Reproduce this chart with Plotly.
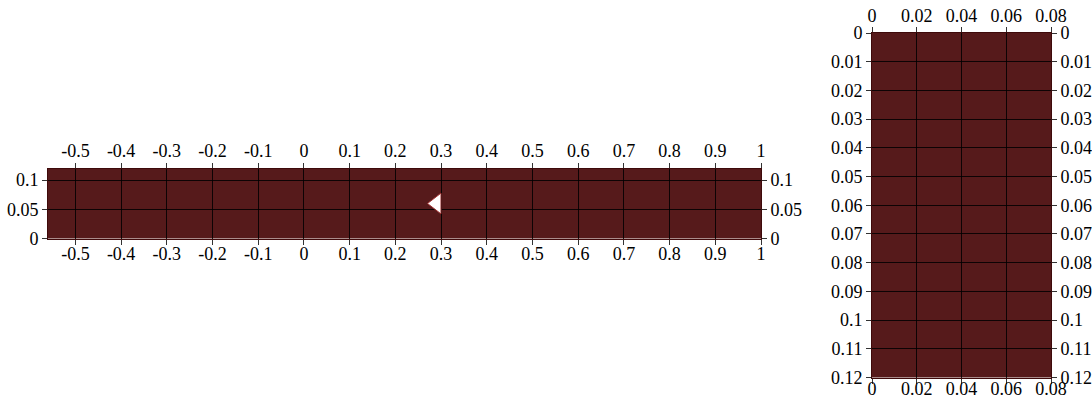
import plotly.graph_objects as go

# ---- data ----
left_x_range = [-0.56, 1.0]
left_y_range = [0.0, 0.12]
left_x_ticks = [-0.5, -0.4, -0.3, -0.2, -0.1, 0, 0.1, 0.2, 0.3, 0.4, 0.5, 0.6, 0.7, 0.8, 0.9, 1]
left_x_labels = ["-0.5", "-0.4", "-0.3", "-0.2", "-0.1", "0", "0.1", "0.2", "0.3", "0.4", "0.5", "0.6", "0.7", "0.8", "0.9", "1"]
left_y_ticks = [0, 0.05, 0.1]
left_y_labels = ["0", "0.05", "0.1"]

right_x_range = [0.0, 0.08]
right_y_range = [0.12, 0.0]
right_x_ticks = [0, 0.02, 0.04, 0.06, 0.08]
right_x_labels = ["0", "0.02", "0.04", "0.06", "0.08"]
right_y_ticks = [0, 0.01, 0.02, 0.03, 0.04, 0.05, 0.06, 0.07, 0.08, 0.09, 0.1, 0.11, 0.12]
right_y_labels = ["0", "0.01", "0.02", "0.03", "0.04", "0.05", "0.06", "0.07", "0.08", "0.09", "0.1", "0.11", "0.12"]

marker_x = [0.29]
marker_y = [0.06]

# ---- styles ----
FILL = "#561a1b"
EDGE = "#3e0a0b"
FONT = dict(family="'Liberation Serif', 'DejaVu Serif', serif", size=18, color="black")

W, H = 1092, 401
L_dom_x = [48 / W, 761 / W]
L_dom_y = [(H - 238.5) / H, (H - 168.5) / H]
R_dom_x = [872 / W, 1051 / W]
R_dom_y = [(H - 377.5) / H, (H - 33) / H]

fig = go.Figure()

fig.add_trace(go.Scatter(
    x=marker_x, y=marker_y, mode="markers", xaxis="x", yaxis="y",
    marker=dict(symbol="triangle-left", size=18, color="white",
                line=dict(color="#a03030", width=1)),
    hoverinfo="skip", showlegend=False))
# anchor traces for overlay axes
fig.add_trace(go.Scatter(x=[left_x_range[0]], y=[left_y_range[0]], xaxis="x3", yaxis="y3",
                         mode="markers", marker=dict(opacity=0), hoverinfo="skip", showlegend=False))
fig.add_trace(go.Scatter(x=[right_x_range[0]], y=[right_y_range[1]], xaxis="x2", yaxis="y2",
                         mode="markers", marker=dict(opacity=0), hoverinfo="skip", showlegend=False))
fig.add_trace(go.Scatter(x=[right_x_range[0]], y=[right_y_range[1]], xaxis="x4", yaxis="y4",
                         mode="markers", marker=dict(opacity=0), hoverinfo="skip", showlegend=False))

common = dict(showline=True, linecolor=EDGE, linewidth=1, ticks="outside", ticklen=5,
              tickwidth=1, tickcolor="#333333", zeroline=False, tickfont=FONT,
              fixedrange=True, automargin=False)
grid = dict(showgrid=True, gridcolor="rgba(0,0,0,0.85)", gridwidth=1)
nogrid = dict(showgrid=False)

fig.update_layout(
    width=W, height=H,
    margin=dict(l=0, r=0, t=0, b=0),
    paper_bgcolor="white",
    plot_bgcolor=FILL,
    showlegend=False,
    xaxis=dict(domain=L_dom_x, anchor="y", range=left_x_range, side="bottom", ticklabelstandoff=-6,
               tickmode="array", tickvals=left_x_ticks, ticktext=left_x_labels, **common, **grid),
    yaxis=dict(domain=L_dom_y, anchor="x", range=left_y_range, side="left",
               tickmode="array", tickvals=left_y_ticks, ticktext=left_y_labels, **common, **grid),
    xaxis3=dict(overlaying="x", anchor="y3", range=left_x_range, side="top", ticklabelstandoff=-2,
                tickmode="array", tickvals=left_x_ticks, ticktext=left_x_labels, **common, **nogrid),
    yaxis3=dict(overlaying="y", anchor="x3", range=left_y_range, side="right",
                tickmode="array", tickvals=left_y_ticks, ticktext=left_y_labels, **common, **nogrid),
    xaxis2=dict(domain=R_dom_x, anchor="y2", range=right_x_range, side="bottom", ticklabelstandoff=-10,
                tickmode="array", tickvals=right_x_ticks, ticktext=right_x_labels, **common, **grid),
    yaxis2=dict(domain=R_dom_y, anchor="x2", range=right_y_range, side="left",
                tickmode="array", tickvals=right_y_ticks, ticktext=right_y_labels, **common, **grid),
    xaxis4=dict(overlaying="x2", anchor="y4", range=right_x_range, side="top", ticklabelstandoff=-2,
                tickmode="array", tickvals=right_x_ticks, ticktext=right_x_labels, **common, **nogrid),
    yaxis4=dict(overlaying="y2", anchor="x4", range=right_y_range, side="right",
                tickmode="array", tickvals=right_y_ticks, ticktext=right_y_labels, **common, **nogrid),
)

fig.write_html("out.html")
